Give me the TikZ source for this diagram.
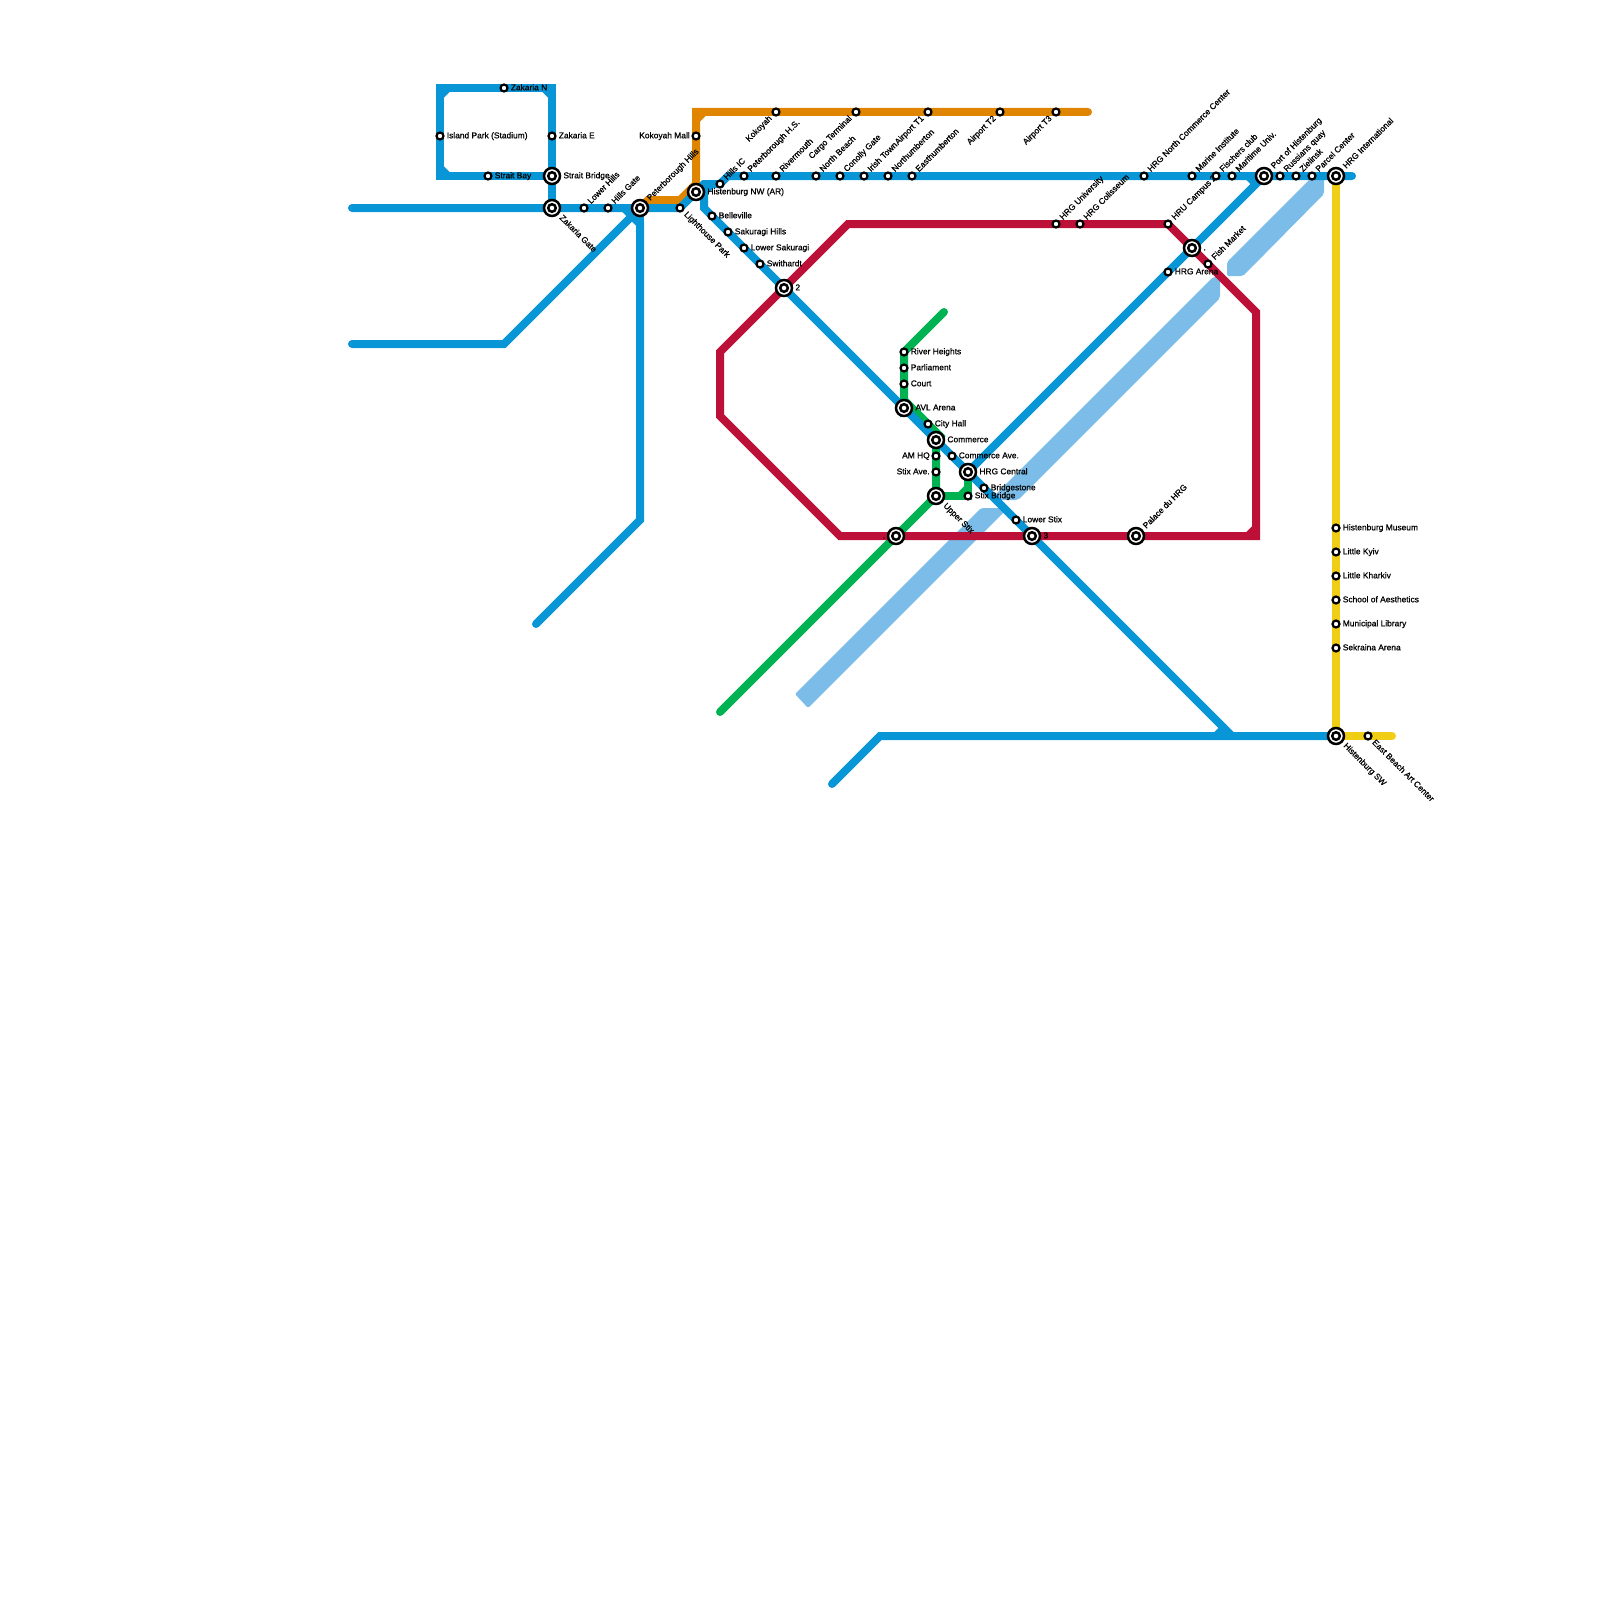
\documentclass[tikz,border=0pt]{standalone}
\usepackage{fontspec}
\setmainfont{Liberation Sans}[FakeBold=0.8]
\usepackage{tikz}
\usetikzlibrary{backgrounds}
\definecolor{lineblue}{HTML}{0896D7}
\definecolor{linered}{HTML}{BD1038}
\definecolor{lineorange}{HTML}{E08500}
\definecolor{linegreen}{HTML}{00B251}
\definecolor{lineyellow}{HTML}{F0CE15}
\definecolor{lightband}{HTML}{7BBDE8}

\begin{document}
\begin{tikzpicture}[
    x=1pt, y=-1pt,
    font=\fontsize{8.4}{9}\selectfont,
    every label/.style={inner sep=0pt, text height=4.6pt, text depth=0pt},
    stn/.style={circle, draw=black, fill=white, line width=2.2pt, inner sep=0pt, minimum size=7pt},
    bigstn/.style={circle, draw=black, fill=white, line width=2.5pt, inner sep=0pt, minimum size=16pt,
        path picture={\draw[line width=2.5pt] (path picture bounding box.center) circle (3.8pt);}},
    lblE/.style={label={[xshift=2pt, anchor=west]0:#1}},
    lblW/.style={label={[xshift=-1.5pt, anchor=east]180:#1}},
    lblNE/.style={label={[xshift=2pt, yshift=2pt, rotate=45, anchor=west]45:#1}},
    lblSE/.style={label={[xshift=2pt, yshift=-2pt, rotate=-45, anchor=west]-45:#1}},
    lblSW/.style={label={[xshift=-2pt, yshift=-2pt, rotate=45, anchor=east]225:#1}},
    metro/.style={line width=8pt, line join=miter, line cap=round, miter limit=10},
    band/.style={fill=lightband, rounded corners=2pt},
]
    \useasboundingbox (0,0) rectangle (1600,1600);

    \node[stn, lblE={Zakaria N}] (zakariaN) at (504,88) {};
    \node[stn, lblE={Island Park (Stadium)}] (islandPark) at (440,136) {};
    \node[stn, lblE={Zakaria E}] (zakariaE) at (552,136) {};
    \node[stn, lblE={Strait Bay}] (straitBay) at (488,176) {};
    \node[bigstn, lblE={Strait Bridge}] (straitBridge) at (552,176) {};
    \node[bigstn, lblSE={Zakaria Gate}] (zakariaGate) at (552,208) {};
    \node[stn, lblNE={Lower Hills}] (lowerHills) at (584,208) {};
    \node[stn, lblNE={Hills Gate}] (hillsGate) at (608,208) {};
    \node[bigstn, lblNE={Peterborough Hills}] (peterHills) at (640,208) {};
    \node[stn, lblSE={Lighthouse Park}] (lighthouse) at (680,208) {};
    \node[bigstn, lblE={Histenburg NW (AR)}] (histNW) at (696,192) {};
    \node[stn, lblW={Kokoyah Mall}] (kokoyahMall) at (696,136) {};
    \node[stn, lblNE={Hills IC}] (hillsIC) at (720,184) {};
    \node[stn, lblNE={Peterborough H.S.}] (peterHS) at (744,176) {};
    \node[stn, lblNE={Rivermouth}] (rivermouth) at (776,176) {};
    \node[stn, lblNE={North Beach}] (northBeach) at (816,176) {};
    \node[stn, lblNE={Conolly Gate}] (conollyGate) at (840,176) {};
    \node[stn, lblNE={Irish Town}] (irishTown) at (864,176) {};
    \node[stn, lblNE={Northumberton}] (northumberton) at (888,176) {};
    \node[stn, lblNE={Easthumberton}] (easthumberton) at (912,176) {};
    \node[stn, lblNE={HRG North Commerce Center}] (northCommerce) at (1144,176) {};
    \node[stn, lblNE={Marine Institute}] (marine) at (1192,176) {};
    \node[stn, lblNE={Fischers club}] (fischers) at (1216,176) {};
    \node[stn, lblNE={Maritime Univ.}] (maritime) at (1232,176) {};
    \node[bigstn, lblNE={Port of Histenburg}] (port) at (1264,176) {};
    \node[stn, lblNE={Russians quay}] (russians) at (1280,176) {};
    \node[stn, lblNE={Zielinsk}] (zielinsk) at (1296,176) {};
    \node[stn, lblNE={Parcel Center}] (parcel) at (1312,176) {};
    \node[bigstn, lblNE={HRG International}] (hrgIntl) at (1336,176) {};

    \node[stn, lblSW={Kokoyah}] (kokoyah) at (776,112) {};
    \node[stn, lblSW={Cargo Terminal}] (cargo) at (856,112) {};
    \node[stn, lblSW={Airport T1}] (airport1) at (928,112) {};
    \node[stn, lblSW={Airport T2}] (airport2) at (1000,112) {};
    \node[stn, lblSW={Airport T3}] (airport3) at (1056,112) {};

    \node[stn, lblE={Belleville}] (belleville) at (712,216) {};
    \node[stn, lblE={Sakuragi Hills}] (sakuragi) at (728,232) {};
    \node[stn, lblE={Lower Sakuragi}] (lowerSakuragi) at (744,248) {};
    \node[stn, lblE={Swithardt}] (swithardt) at (760,264) {};
    \node[bigstn, lblE={2}] (xtwo) at (784,288) {};

    \node[stn, lblE={River Heights}] (riverHeights) at (904,352) {};
    \node[stn, lblE={Parliament}] (parliament) at (904,368) {};
    \node[stn, lblE={Court}] (court) at (904,384) {};
    \node[bigstn, lblE={AVL Arena}] (avl) at (904,408) {};
    \node[stn, lblE={City Hall}] (cityHall) at (928,424) {};
    \node[bigstn, lblE={Commerce}] (commerce) at (936,440) {};
    \node[stn, lblW={AM HQ}] (amHQ) at (936,456) {};
    \node[stn, lblW={Stix Ave.}] (stixAve) at (936,472) {};
    \node[bigstn, lblSE={Upper Stix}] (upperStix) at (936,496) {};
    \node[stn, lblE={Commerce Ave.}] (commerceAve) at (952,456) {};
    \node[bigstn, lblE={HRG Central}] (hrgCentral) at (968,472) {};
    \node[stn, lblE={Bridgestone}] (bridgestone) at (984,488) {};
    \node[stn, lblE={Stix Bridge}] (stixBridge) at (968,496) {};
    \node[stn, lblE={Lower Stix}] (lowerStix) at (1016,520) {};
    \node[bigstn, lblE={3}] (xthree) at (1032,536) {};
    \node[bigstn, lblW={.}] (xcross) at (896,536) {};
    \node[bigstn, lblNE={Palace du HRG}] (palace) at (1136,536) {};

    \node[stn, lblNE={HRG University}] (hrgUniv) at (1056,224) {};
    \node[stn, lblNE={HRG Colisseum}] (hrgColisseum) at (1080,224) {};
    \node[stn, lblNE={HRU Campus 2}] (hruCampus) at (1168,224) {};
    \node[bigstn, lblE={.}] (xdot) at (1192,248) {};
    \node[stn, lblNE={Fish Market}] (fishMarket) at (1208,264) {};
    \node[stn, lblE={HRG Arena}] (hrgArena) at (1168,272) {};

    \node[stn, lblE={Histenburg Museum}] (museum) at (1336,528) {};
    \node[stn, lblE={Little Kyiv}] (kyiv) at (1336,552) {};
    \node[stn, lblE={Little Kharkiv}] (kharkiv) at (1336,576) {};
    \node[stn, lblE={School of Aesthetics}] (aesthetics) at (1336,600) {};
    \node[stn, lblE={Municipal Library}] (library) at (1336,624) {};
    \node[stn, lblE={Sekraina Arena}] (sekraina) at (1336,648) {};
    \node[bigstn, lblSE={Histenburg SW}] (histSW) at (1336,736) {};
    \node[stn, lblSE={East Beach Art Center}] (eastBeach) at (1368,736) {};

    \coordinate (westA) at (352,208);
    \coordinate (westB) at (352,344);
    \coordinate (kneeB) at (504,344);
    \coordinate (stubB) at (632,216);
    \coordinate (stubBL) at (624,208);
    \coordinate (southC) at (536,624);
    \coordinate (kneeC) at (640,520);
    \coordinate (stubC) at (640,224);
    \coordinate (loopNE) at (552,88);
    \coordinate (loopNW) at (440,88);
    \coordinate (loopSW) at (440,176);
    \coordinate (fork) at (704,184);
    \coordinate (forkS) at (704,208);
    \coordinate (kneeTop) at (728,176);
    \coordinate (eastTop) at (1352,176);
    \coordinate (kneeSE) at (1232,736);
    \coordinate (stubSE) at (1224,728);
    \coordinate (stubSEL) at (1216,736);
    \coordinate (southD) at (832,784);
    \coordinate (kneeD) at (880,736);
    \coordinate (kneePort) at (1256,184);
    \coordinate (stubPort) at (1248,176);

    \coordinate (orA) at (648,200);
    \coordinate (orB) at (680,200);
    \coordinate (orC) at (696,184);
    \coordinate (orD) at (696,112);
    \coordinate (orEnd) at (1088,112);

    \coordinate (redA) at (720,352);
    \coordinate (redB) at (848,224);
    \coordinate (redC) at (1256,312);
    \coordinate (redD) at (1256,536);
    \coordinate (redE) at (840,536);
    \coordinate (redF) at (720,416);

    \coordinate (grTop) at (944,312);
    \coordinate (grA) at (908,404);
    \coordinate (grB) at (940,436);
    \coordinate (grEnd) at (720,712);

    \coordinate (yeEnd) at (1392,736);

    \begin{scope}[on background layer]
        \path[band] (795,694) -- (981,508) -- (1003,508) -- (1004,512) -- (808,708) -- cycle;
        \path[band] (990,500) -- (1213,277) -- (1220,277) -- (1220,298) -- (1018,500) -- cycle;
        \path[band] (1227,262) -- (1311,178) -- (1324,178) -- (1324,194) -- (1243,276) -- (1227,276) -- cycle;

        \draw[metro, lineorange] (peterHills.center) -- (orA) -- (orB) -- (orC) -- (kokoyahMall.center) -- (orD) -- (kokoyah.center) -- (cargo.center) -- (airport1.center) -- (airport2.center) -- (airport3.center) -- (orEnd);
        \draw[metro, lineorange] (696,120) -- (704,112);

        \draw[metro, linegreen] (grTop) -- (riverHeights.center) -- (parliament.center) -- (court.center) -- (avl.center) -- (grA) -- (cityHall.center) -- (grB) -- (commerce.center) -- (amHQ.center) -- (stixAve.center) -- (upperStix.center) -- (xcross.center) -- (grEnd);
        \draw[metro, linegreen] (upperStix.center) -- (stixBridge.center) -- (hrgCentral.center);
        \draw[metro, linegreen] (960,496) -- (968,488);

        \draw[metro, lineyellow] (hrgIntl.center) -- (museum.center) -- (kyiv.center) -- (kharkiv.center) -- (aesthetics.center) -- (library.center) -- (sekraina.center) -- (histSW.center) -- (eastBeach.center) -- (yeEnd);

        \draw[metro, lineblue] (westA) -- (zakariaGate.center) -- (lowerHills.center) -- (hillsGate.center) -- (peterHills.center) -- (lighthouse.center) -- (histNW.center) -- (fork) -- (hillsIC.center) -- (kneeTop) -- (peterHS.center) -- (rivermouth.center) -- (northBeach.center) -- (conollyGate.center) -- (irishTown.center) -- (northumberton.center) -- (easthumberton.center) -- (northCommerce.center) -- (marine.center) -- (fischers.center) -- (maritime.center) -- (port.center) -- (russians.center) -- (zielinsk.center) -- (parcel.center) -- (hrgIntl.center) -- (eastTop);
        \draw[metro, lineblue] (fork) -- (forkS) -- (belleville.center) -- (sakuragi.center) -- (lowerSakuragi.center) -- (swithardt.center) -- (xtwo.center) -- (avl.center) -- (commerce.center) -- (commerceAve.center) -- (hrgCentral.center) -- (bridgestone.center) -- (lowerStix.center) -- (xthree.center) -- (kneeSE);
        \draw[metro, lineblue] (stubSE) -- (stubSEL);
        \draw[metro, lineblue] (zakariaGate.center) -- (straitBridge.center) -- (zakariaE.center) -- (loopNE) -- (zakariaN.center) -- (loopNW) -- (islandPark.center) -- (loopSW) -- (straitBay.center) -- (straitBridge.center);
        \draw[metro, lineblue] (440,96) -- (448,88);
        \draw[metro, lineblue] (544,88) -- (552,96);
        \draw[metro, lineblue] (440,168) -- (448,176);
        \draw[metro, lineblue] (704,192) -- (712,184);
        \draw[metro, lineblue] (westB) -- (kneeB) -- (stubB) -- (stubBL);
        \draw[metro, lineblue] (southC) -- (kneeC) -- (stubC) -- (stubB);
        \draw[metro, lineblue] (peterHills.center) -- (stubC);
        \draw[metro, lineblue] (southD) -- (kneeD) -- (histSW.center);
        \draw[metro, lineblue] (hrgCentral.center) -- (hrgArena.center) -- (xdot.center) -- (kneePort) -- (stubPort);

        \draw[metro, linered] (redA) -- (xtwo.center) -- (redB) -- (hrgUniv.center) -- (hrgColisseum.center) -- (hruCampus.center) -- (xdot.center) -- (fishMarket.center) -- (redC) -- (redD) -- (palace.center) -- (xthree.center) -- (xcross.center) -- (redE) -- (redF) -- cycle;
        \draw[metro, linered] (1248,536) -- (1256,528);
    \end{scope}
\end{tikzpicture}
\end{document}
